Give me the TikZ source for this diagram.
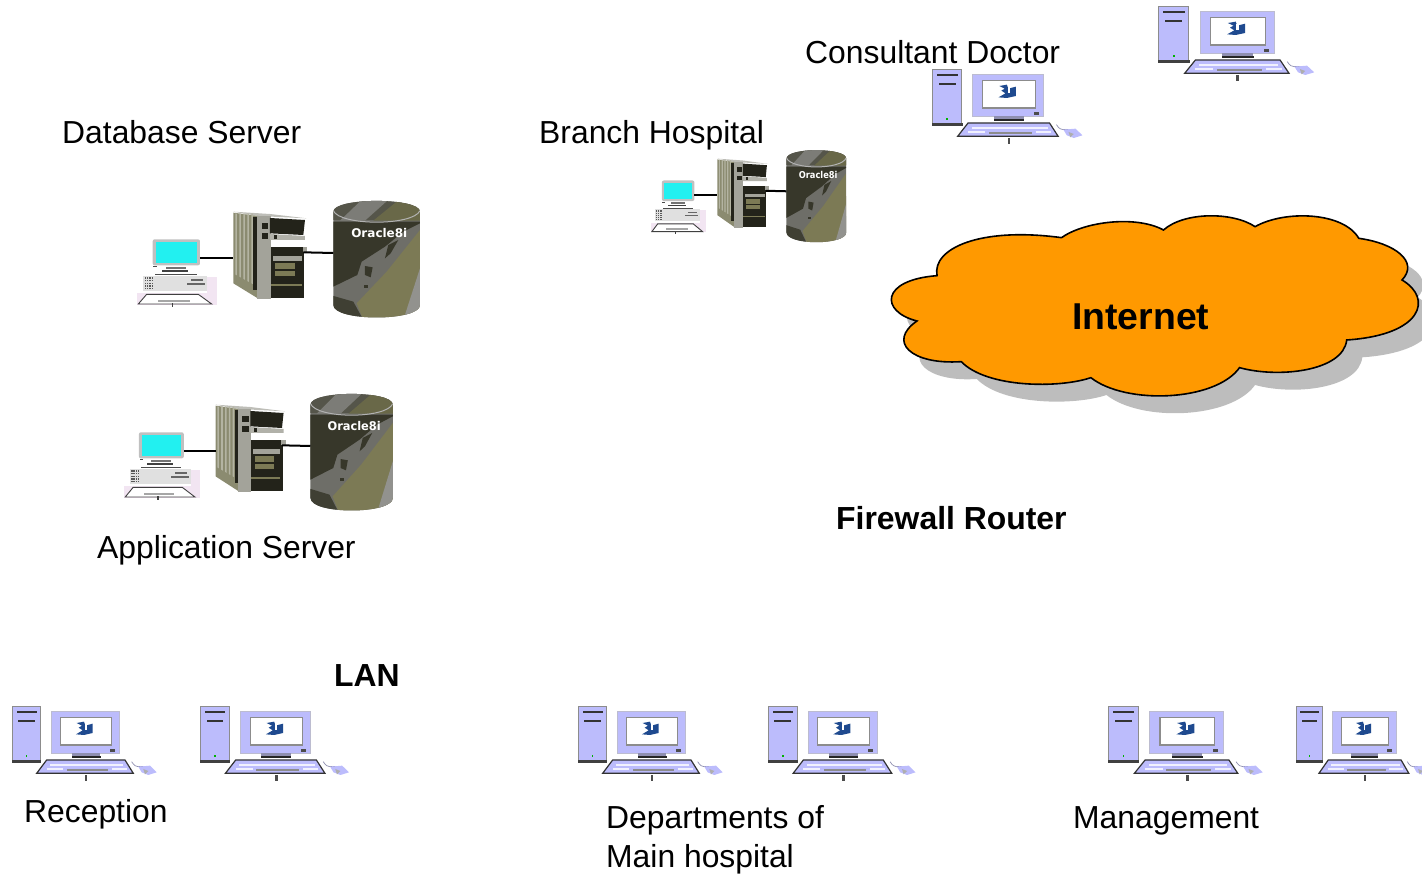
\documentclass[tikz,border=0pt]{standalone}
\usepackage{fontspec}
\setmainfont{Liberation Sans}
\newfontfamily\orafont{DejaVu Sans}
\definecolor{lilac}{HTML}{BCBCFC}
\definecolor{lilacd}{HTML}{8F8FB0}
\definecolor{frameg}{HTML}{8C8C8C}
\definecolor{cloudor}{HTML}{FF9900}
\definecolor{cloudsh}{HTML}{BDBDBD}
\definecolor{dbdark}{HTML}{37372A}
\definecolor{dbolive}{HTML}{7C7A55}
\definecolor{dbgray}{HTML}{6E6E68}
\definecolor{dbcap}{HTML}{55554A}
\definecolor{twside}{HTML}{8B8B70}
\definecolor{twfront}{HTML}{A3A39A}
\definecolor{twblack}{HTML}{23231A}
\definecolor{cyanscr}{HTML}{22F0F0}
\definecolor{logoblue}{HTML}{1F4A8F}
\tikzset{
  lbl/.style={anchor=base west,inner sep=0pt,font=\fontsize{31.85}{38}\selectfont},
  lblb/.style={lbl,font=\fontsize{31.9}{38}\selectfont\bfseries},
  pc/.pic={
    \begin{scope}[shift={(-12,-11)},scale=0.3333]
      \draw[lilacd,line width=.7pt] (395,200) .. controls (410,225) and (420,210) .. (430,215);
      \fill[lilac] (415,215) -- (450,212) -- (470,232) -- (445,240) -- (425,232) -- cycle;
      \fill[frameg!70!white] (430,222) -- (445,228) -- (435,238) -- cycle;
      \filldraw[fill=lilac,draw=frameg,line width=1pt] (37,34) rectangle (122,198);
      \fill[black!75] (35,196) rectangle (124,204);
      \fill[black!80] (50,47) rectangle (110,53);
      \fill[black!80] (55,76) rectangle (104,81);
      \fill[green!70!black] (77,181) rectangle (82,186);
      \filldraw[fill=lilac,draw=lilacd!60,line width=.5pt] (153,48) rectangle (358,175);
      \filldraw[fill=white,draw=frameg,line width=1.2pt] (182,68) rectangle (335,150);
      \fill[black!70] (330,163) rectangle (345,170);
      \fill[lilacd] (215,175) rectangle (300,182);
      \fill[black!85] (215,182) rectangle (302,190);
      \fill[logoblue] (230,84) -- (252,80) -- (256,92) -- (278,86) -- (278,114) -- (252,120) -- (228,118) -- (248,106) -- (236,98) -- (246,92) -- cycle;
      \fill[white] (254,88) rectangle (260,106);
      \filldraw[fill=lilac,draw=black!80,line width=1.2pt] (140,195) -- (375,195) -- (400,235) -- (110,235) -- cycle;
      \fill[white,opacity=.8] (150,208) rectangle (370,214);
      \fill[white,opacity=.8] (140,220) rectangle (190,226);
      \fill[white,opacity=.8] (335,220) rectangle (380,226);
      \fill[frameg] (200,223) rectangle (325,229);
      \fill[black!70] (254,240) rectangle (262,259);
    \end{scope}
  },
  dbgroup/.pic={
    \begin{scope}[shift={(-17,-12)},scale=0.3333]
      % small workstation
      \fill[violet!10] (52,308) rectangle (290,345);
      \fill[violet!10] (262,262) rectangle (290,308);
      \fill[frameg!55,rounded corners=2pt] (98,148) rectangle (240,226);
      \fill[cyanscr] (107,156) rectangle (230,218);
      \fill[black!70] (100,228) rectangle (112,232);
      \fill[black!55] (137,230) rectangle (198,236);
      \fill[black!75] (125,241) rectangle (205,246);
      \fill[black!70] (105,251) rectangle (232,254);
      \fill[black!12] (70,258) rectangle (262,302);
      \foreach \yy in {262,270,...,296}{\foreach \xx in {74,81,88,95}{\fill[black!65] (\xx,\yy) rectangle +(4,4);}}
      \fill[black!60] (212,268) rectangle (250,272);
      \fill[black!60] (200,280) rectangle (256,284);
      \draw[black!75,line width=.9pt,fill=white] (80,313) -- (235,313) -- (275,342) -- (55,342) -- cycle;
      \fill[black!35] (115,330) rectangle (210,337);
      \fill[black!75] (155,340) rectangle (160,350);
      % tower
      \fill[twfront!70] (340,65) -- (450,72) -- (560,85) -- (415,78) -- cycle;
      \fill[twside] (340,68) -- (415,78) -- (415,326) -- (340,280) -- cycle;
      \foreach \xx in {346,358,...,394}{\fill[twside!65!white] (\xx,70) -- (\xx+5,71) -- (\xx+5,306-50+\xx*0.55-190) -- (\xx,306-50+\xx*0.55-193) -- cycle;}
      \fill[twblack] (400,80) rectangle (412,300);
      \fill[twfront] (410,78) -- (452,78) -- (452,328) -- (410,328) -- cycle;
      \fill[twblack] (450,84) -- (555,90) -- (550,135) -- (450,130) -- cycle;
      \fill[twfront!85] (450,132) -- (555,138) -- (555,150) -- (450,150) -- cycle;
      \fill[twblack] (425,98) rectangle (445,116);
      \fill[twblack] (425,130) rectangle (445,148);
      \fill[twblack] (462,134) rectangle (472,146);
      \fill[twblack] (452,170) rectangle (552,325);
      \fill[twfront] (460,198) rectangle (545,212);
      \fill[dbolive] (465,220) rectangle (525,236);
      \fill[dbolive] (465,243) rectangle (525,258);
      \fill[dbolive] (452,282) rectangle (545,287);
      \fill[twfront] (548,170) rectangle (562,185);
      % database
      \begin{scope}
        \clip (640,65) .. controls (640,22) and (900,22) .. (900,65) -- (900,345) .. controls (900,395) and (640,395) .. (640,345) -- cycle;
        \fill[dbgray] (630,20) rectangle (910,390);
        \fill[dbdark] (630,95) -- (910,95) -- (850,125) -- (795,170) -- (725,215) -- (712,255) -- (640,290) -- (630,290) -- cycle;
        \fill[dbolive] (900,120) -- (910,390) -- (730,390) -- (710,340) -- (800,245) -- cycle;
        \fill[dbgray!75!white] (900,235) -- (910,390) -- (850,390) -- cycle;
        \fill[dbdark!85!dbgray] (630,315) -- (700,335) -- (730,390) -- (630,390) -- cycle;
        \fill[dbcap] (630,20) rectangle (910,90);
        \fill[dbgray!90!white] (730,25) -- (810,25) -- (735,92) -- (660,92) -- cycle;
        \fill[dbolive!85!black] (830,35) -- (910,35) -- (910,92) -- (760,92) -- cycle;
        \draw[black!30,line width=1pt] (640,62) .. controls (660,108) and (880,108) .. (900,62);
        \fill[dbdark] (805,165) -- (835,150) -- (812,190) -- (795,205) -- cycle;
        \fill[dbdark] (735,228) -- (758,232) -- (752,262) -- (735,255) -- cycle;
        \fill[dbdark] (733,285) -- (745,285) -- (745,295) -- (733,295) -- cycle;
      \end{scope}
      \node[text=white,inner sep=0pt,transform shape,font=\fontsize{36}{36}\selectfont\orafont\bfseries] (-ora) at (778,128) {Oracle8i};
      % connectors
      \coordinate (-a) at (240,204);
      \coordinate (-b) at (340,204);
      \coordinate (-c) at (550,187);
      \coordinate (-d) at (640,189);
      \draw[black,line width=2pt] (-a) -- (-b);
      \draw[black,line width=2pt] (-c) -- (-d);
    \end{scope}
  }
}
\begin{document}
\begin{tikzpicture}[x=1pt,y=-1pt]
\useasboundingbox (0,0) rectangle (1422,874);
\clip (0,0) rectangle (1422,874);
\def\cloudpath{(165,212) .. controls (150,130) and (290,65) .. (525,98)
  .. controls (590,50) and (740,30) .. (820,75)
  .. controls (880,20) and (1020,20) .. (1085,65)
  .. controls (1170,15) and (1340,20) .. (1385,100)
  .. controls (1490,115) and (1560,170) .. (1510,225)
  .. controls (1600,280) and (1570,390) .. (1350,405)
  .. controls (1340,500) and (1150,520) .. (1040,488)
  .. controls (970,590) and (710,600) .. (610,518)
  .. controls (520,550) and (310,550) .. (235,470)
  .. controls (90,480) and (20,410) .. (107,348)
  .. controls (0,320) and (0,225) .. (165,212) -- cycle}
\begin{scope}[shift={(880,205)},xscale=0.3457,yscale=0.3333]
  \fill[cloudsh,shift={(45,52)}] \cloudpath;
  \filldraw[fill=cloudor,draw=black,line width=1.6pt] \cloudpath;
\end{scope}
\node[lblb,font=\fontsize{37.4}{42}\selectfont\bfseries] (inet) at (1072,330) {Internet};

\pic (g1) at (137,202) {dbgroup};
\pic[xscale=0.95,yscale=1.0] (g2) at (124,395) {dbgroup};
\pic[xscale=0.69,yscale=0.79] (g3) at (651,151) {dbgroup};

\pic (p1) at (12,706) {pc};
\pic[xscale=1.03] (p2) at (200,706) {pc};
\pic (p3) at (578,706) {pc};
\pic[xscale=1.02] (p4) at (768,706) {pc};
\pic[xscale=1.07] (p5) at (1108,706) {pc};
\pic[xscale=0.93] (p6) at (1296,706) {pc};
\pic[xscale=1.08] (p7) at (1158,6) {pc};
\pic[xscale=1.04] (p8) at (932,69) {pc};

\node[lbl] (t1) at (62,144) {Database Server};
\node[lbl] (t2) at (805,64) {Consultant Doctor};
\node[lbl] (t3) at (539,144) {Branch Hospital};
\node[lbl] (t4) at (97,558) {Application Server};
\node[lblb] (t5) at (836,529) {Firewall Router};
\node[lblb] (t6) at (334,686) {LAN};
\node[lbl] (t7) at (24,822) {Reception};
\node[lbl] (t8) at (606,828) {Departments of};
\node[lbl] (t9) at (606,867) {Main hospital};
\node[lbl] (t10) at (1073,828) {Management};
\end{tikzpicture}
\end{document}
